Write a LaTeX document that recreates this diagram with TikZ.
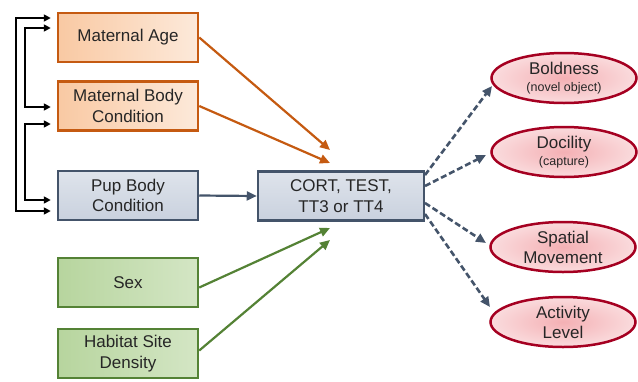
\documentclass[tikz,border=0pt]{standalone}
\usepackage{fontspec}
\setmainfont{Liberation Sans}
\usetikzlibrary{arrows.meta,shapes.geometric,calc}
\definecolor{orB}{HTML}{C55A11}
\definecolor{orF}{HTML}{F9C9A3}
\definecolor{blB}{HTML}{44546A}
\definecolor{blF}{HTML}{C9D1DE}
\definecolor{grB}{HTML}{548235}
\definecolor{grF}{HTML}{B7D59E}
\definecolor{rdB}{HTML}{A50021}
\definecolor{rdF}{HTML}{F4B0B4}
\tikzset{
  box/.style={rectangle, minimum width=140pt, minimum height=49pt, inner sep=0pt,
    line width=2.5pt, align=center, font=\fontsize{17}{20.5}\selectfont, text=black!85},
  orbox/.style={box, draw=orB, left color=orF, right color=orF!40},
  blbox/.style={box, draw=blB, top color=blF!60, bottom color=blF},
  grbox/.style={box, draw=grB, left color=grF, right color=grF!60},
  oval/.style={ellipse, minimum width=145pt, minimum height=50pt, inner sep=0pt,
    line width=2.5pt, draw=rdB, inner color=rdF, outer color=rdF!45, align=center,
    font=\fontsize{17}{20}\selectfont, text=black!85},
  tip/.style={-{Triangle[length=10pt,width=9pt]}},
  orarr/.style={tip, draw=orB, line width=2.2pt},
  grarr/.style={tip, draw=grB, line width=2.2pt},
  blarr/.style={tip, draw=blB, line width=2.2pt},
  dsarr/.style={tip, draw=blB, line width=2.6pt, dash pattern=on 6pt off 3pt},
  conn/.style={{Triangle[length=7pt,width=7pt]}-{Triangle[length=7pt,width=7pt]}, draw=black, line width=1.7pt}
}
\begin{document}
\begin{tikzpicture}[x=1pt,y=-1pt]
\useasboundingbox (0,0) rectangle (638,381);
\node[orbox] (ma) at (128,37.5) {Maternal Age};
\node[orbox] (mb) at (128,106) {Maternal Body\\Condition};
\node[blbox] (pb) at (128,195.5) {Pup Body\\Condition};
\node[grbox] (sx) at (128,282.5) {Sex};
\node[grbox] (hd) at (128,353.5) {Habitat Site\\Density};
\node[blbox, minimum width=166pt] (ct) at (341,196) {CORT, TEST,\\TT3 or TT4};
\node[oval] (bo) at (564,78) {Boldness\\[-3pt]{\fontsize{12.5}{14}\selectfont (novel object)}};
\node[oval] (do) at (564,152) {Docility\\[-3pt]{\fontsize{12.5}{14}\selectfont (capture)}};
\node[oval] (sp) at (563,247) {Spatial\\Movement};
\node[oval] (ac) at (563,322) {Activity\\Level};
% inputs
\coordinate (t1) at (330,150);
\coordinate (t2) at (330,163);
\coordinate (t3) at (330,228);
\coordinate (t4) at (330,240);
\draw[orarr] (ma.east) -- (t1);
\draw[orarr] (mb.east) -- (t2);
\draw[grarr] ([yshift=-5pt]sx.east) -- (t3);
\draw[grarr] ([yshift=3pt]hd.east) -- (t4);
\draw[blarr] (pb.east) -- (ct.west);
% outputs
\coordinate (s1) at (425,175);
\coordinate (s2) at (425,186);
\coordinate (s3) at (425,203);
\coordinate (s4) at (425,214);
\coordinate (e1) at (492,86);
\coordinate (e2) at (486,155);
\coordinate (e3) at (486,243);
\coordinate (e4) at (490,307);
\draw[dsarr] (s1) -- (e1);
\draw[dsarr] (s2) -- (e2);
\draw[dsarr] (s3) -- (e3);
\draw[dsarr] (s4) -- (e4);
% left connectors
\draw[conn] ([shift={(-6pt,19.5pt)}]ma.west) -- ++(-35pt,0) |- ([shift={(-6pt,-15.5pt)}]pb.west);
\draw[conn] ([shift={(-6pt,9.5pt)}]ma.west) -- ++(-26pt,0) |- ([shift={(-6pt,-1pt)}]mb.west);
\draw[conn] ([shift={(-6pt,-18pt)}]mb.west) -- ++(-26pt,0) |- ([shift={(-6pt,-4.5pt)}]pb.west);
\end{tikzpicture}
\end{document}
